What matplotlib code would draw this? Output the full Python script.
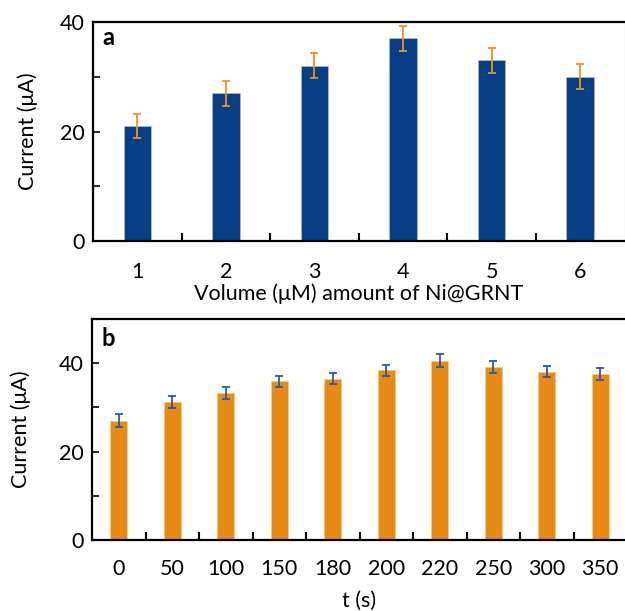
import matplotlib
matplotlib.use("Agg")
import matplotlib.pyplot as plt
import numpy as np

plt.rcParams['font.family'] = ['Lato', 'DejaVu Sans']

# ---------------- data ----------------
# panel a
volume_labels = ['1', '2', '3', '4', '5', '6']
current_a = [21, 27, 32, 37, 33, 30]
err_a = [2.2, 2.3, 2.3, 2.3, 2.3, 2.3]

# panel b
time_labels = ['0', '50', '100', '150', '180', '200', '220', '250', '300', '350']
current_b = [27.0, 31.2, 33.3, 35.9, 36.5, 38.4, 40.6, 39.2, 38.1, 37.6]
err_b = [1.4, 1.3, 1.3, 1.3, 1.3, 1.3, 1.4, 1.4, 1.3, 1.3]

navy = '#063f85'
orange = '#e88b14'
errblue = '#2a5aa5'
errorange = '#f0921e'

fig = plt.figure(figsize=(6.25, 6.11), dpi=100)
ax1 = fig.add_axes([93/625, 1-241/611, 531.5/625, 219/611])
ax2 = fig.add_axes([92/625, 1-540/611, 535/625, 221/611])


def style(ax, n, ymax, xpad):
    ax.set_xlim(-0.5, n - 0.5)
    ax.set_ylim(0, ymax)
    ax.set_yticks([0, 20, 40])
    ax.set_yticks([10, 30], minor=True)
    ax.tick_params(axis='y', which='both', direction='in', length=5, width=1.2,
                   labelsize=15.5, pad=6)
    ax.set_xticks(np.arange(n))
    ax.set_xticks(np.arange(n - 1) + 0.5, minor=True)
    ax.tick_params(axis='x', which='major', length=0, labelsize=15.5, pad=xpad)
    ax.tick_params(axis='x', which='minor', direction='in', length=6, width=1.5)
    for s in ['left', 'bottom', 'top']:
        ax.spines[s].set_linewidth(1.6)
        ax.spines[s].set_color('black')
    ax.spines['right'].set_linewidth(0.8)
    ax.spines['right'].set_color('#b0b0b0')


x1 = np.arange(len(volume_labels))
ax1.bar(x1, current_a, width=0.31, color=navy, edgecolor='#a9b9d6', linewidth=0.6)
ax1.errorbar(x1, current_a, yerr=err_a, fmt='none', ecolor=errorange,
             elinewidth=1.3, capsize=3, capthick=1.3)
style(ax1, len(volume_labels), 40, 15)
ax1.set_xticklabels(volume_labels)
ax1.set_xlabel('Volume (μM) amount of Ni@GRNT', fontsize=15.5, labelpad=1)
ax1.set_ylabel('Current (μA)', fontsize=15.5, labelpad=16)
ax1.text(0.018, 0.93, 'a', transform=ax1.transAxes, fontsize=17,
         fontweight='bold', va='center', ha='left')

x2 = np.arange(len(time_labels))
ax2.bar(x2, current_b, width=0.31, color=orange, edgecolor='#f5c98e', linewidth=0.6)
ax2.errorbar(x2, current_b, yerr=err_b, fmt='none', ecolor=errblue,
             elinewidth=1.3, capsize=3, capthick=1.3)
style(ax2, len(time_labels), 50, 14)
ax2.set_xticklabels(time_labels)
ax2.set_xlabel('t (s)', fontsize=15.5, labelpad=8)
ax2.set_ylabel('Current (μA)', fontsize=15.5, labelpad=20)
ax2.text(0.018, 0.91, 'b', transform=ax2.transAxes, fontsize=17,
         fontweight='bold', va='center', ha='left')

fig.savefig('out.png', dpi=100)
